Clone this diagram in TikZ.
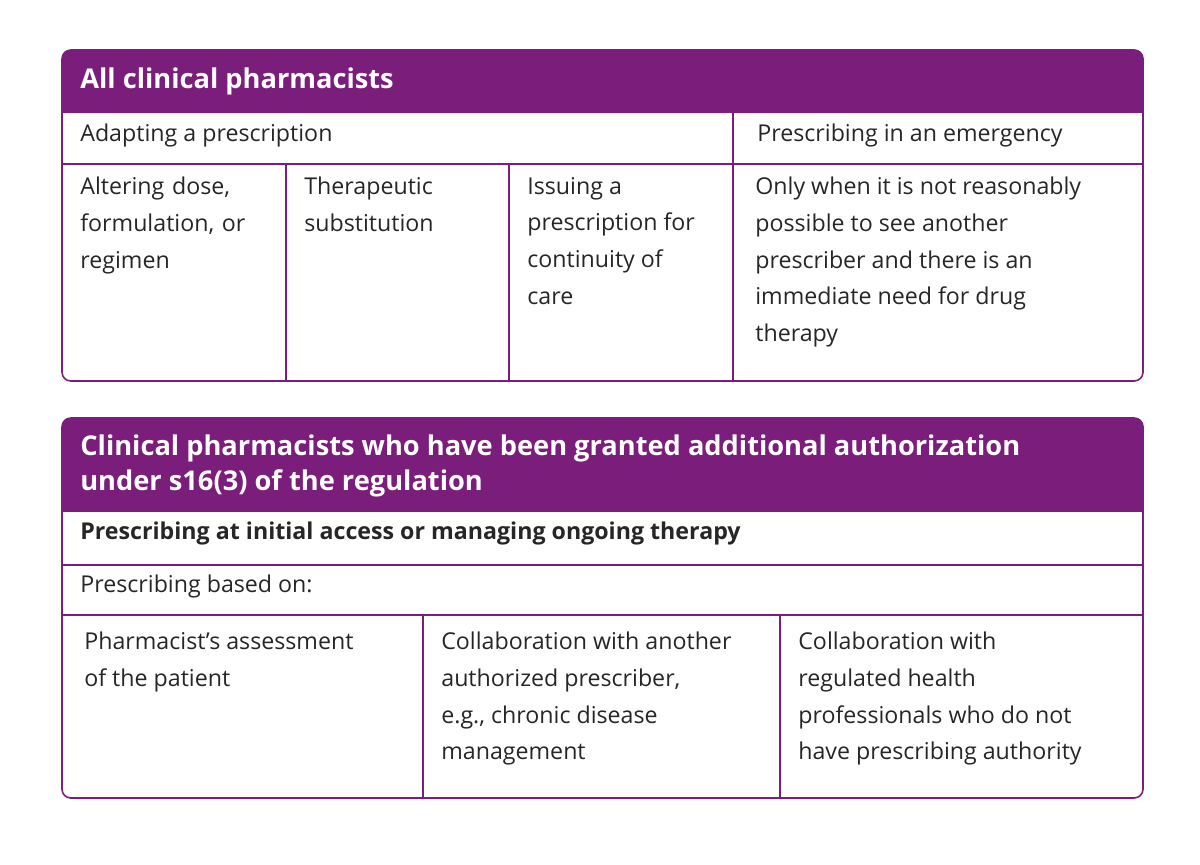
\documentclass[tikz,border=0pt]{standalone}
\usepackage{fontspec}
\setmainfont{Open Sans}
\definecolor{purp}{HTML}{7A1D7B}
\begin{document}
\begin{tikzpicture}[x=0.02cm,y=-0.02cm,
  body/.style={anchor=north west,align=left,inner sep=0pt,font=\fontsize{13.2}{20.8}\selectfont,text=black!85},
  head/.style={anchor=west,align=left,inner sep=0pt,text=white,font=\fontsize{15.5}{19.5}\selectfont\bfseries},
  frame/.style={draw=purp,line width=0.9pt,rounded corners=5pt},
  grid/.style={draw=purp,line width=0.8pt}]
\useasboundingbox (0,0) rectangle (1200,865);
% box 1
\fill[purp,rounded corners=5pt] (62,50) rectangle (1143,112);
\fill[purp] (62,90) rectangle (1143,112);
\draw[frame] (62,50) rectangle (1143,381);
\draw[grid] (62,112) -- (1143,112) (62,164) -- (1143,164)
  (733,112) -- (733,381) (286,164) -- (286,381) (509,164) -- (509,381);
\node[head] (h1) at (80,81) {All clinical pharmacists};
\node[body] (a1) at (80,124) {Adapting a prescription};
\node[body] (a2) at (757,124) {Prescribing in an emergency};
\node[body,text width=190] (c1) at (80,177) {Altering dose,\\formulation, or\\regimen};
\node[body] (c2) at (304,177) {Therapeutic\\substitution};
\node[body] (c3) at (527,177) {Issuing a\\prescription for\\continuity of\\care};
\node[body] (c4) at (755,177) {Only when it is not reasonably\\possible to see another\\prescriber and there is an\\immediate need for drug\\therapy};
% box 2
\fill[purp,rounded corners=5pt] (62,418) rectangle (1143,511);
\fill[purp] (62,490) rectangle (1143,511);
\draw[frame] (62,418) rectangle (1143,798);
\draw[grid] (62,511) -- (1143,511) (62,565) -- (1143,565) (62,615) -- (1143,615)
  (423,615) -- (423,798) (780,615) -- (780,798);
\node[head] (h2) at (80,466) {Clinical pharmacists who have been granted additional authorization\\under s16(3) of the regulation};
\node[body,font=\fontsize{13.2}{20.8}\selectfont\bfseries] (b1) at (80,522) {Prescribing at initial access or managing ongoing therapy};
\node[body] (b2) at (80,575) {Prescribing based on:};
\node[body] (d1) at (84,632) {Pharmacist’s assessment\\of the patient};
\node[body] (d2) at (441,632) {Collaboration with another\\authorized prescriber,\\e.g., chronic disease\\management};
\node[body] (d3) at (798,632) {Collaboration with\\regulated health\\professionals who do not\\have prescribing authority};
\end{tikzpicture}
\end{document}
